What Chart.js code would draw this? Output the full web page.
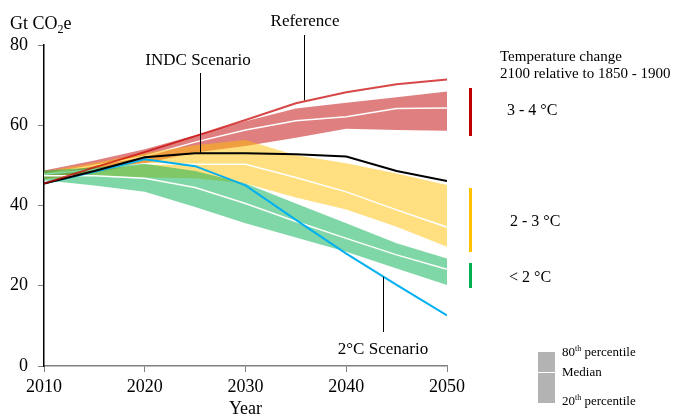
<!DOCTYPE html>
<html>
<head>
<meta charset="utf-8">
<script src="https://cdn.jsdelivr.net/npm/chart.js@4/dist/chart.umd.min.js"></script>
<style>
  html, body { margin: 0; padding: 0; background: #fff; }
  #wrap { width: 676px; height: 418px; position: relative; }
</style>
</head>
<body>
<div id="wrap"><canvas id="chart"></canvas></div>
<script>
// ----- data (Gt CO2e) -----
const years = [2010, 2015, 2020, 2025, 2030, 2035, 2040, 2045, 2050];
const xTicks = [2010, 2020, 2030, 2040, 2050];
const yTicks = [0, 20, 40, 60, 80];

const reference = [45.5, 49.5, 53.3, 57.3, 61.3, 65.5, 68.2, 70.2, 71.4];
const indc      = [45.5, 48.6, 52.0, 53.0, 53.0, 52.8, 52.2, 48.6, 46.1];
const twoDeg    = [45.5, 48.4, 51.5, 49.8, 45.0, 36.4, 28.0, 20.2, 12.6];

// 3 - 4 °C band
const redTop    = [48.7, 51.2, 54.0, 57.5, 61.0, 64.2, 65.6, 67.0, 68.4];
const redMed    = [47.8, 50.0, 52.3, 55.8, 58.8, 61.1, 62.1, 64.2, 64.3];
const redBot    = [46.6, 48.2, 50.5, 53.2, 54.8, 56.9, 59.1, 58.8, 58.6];
// 2 - 3 °C band
const yelTop    = [48.5, 50.6, 53.0, 55.0, 56.3, 52.5, 50.5, 48.0, 45.1];
const yelMed    = [47.8, 49.0, 50.4, 50.3, 50.3, 47.0, 43.4, 38.9, 34.6];
const yelBot    = [46.6, 47.4, 47.0, 46.8, 45.5, 42.0, 39.0, 34.7, 29.7];
// < 2 °C band
const grnTop    = [48.7, 49.5, 50.4, 48.6, 45.5, 40.5, 35.6, 30.6, 26.8];
const grnMed    = [47.4, 47.4, 46.8, 44.5, 40.5, 36.0, 31.8, 27.7, 24.1];
const grnBot    = [46.3, 45.0, 43.4, 39.6, 35.6, 32.0, 28.5, 24.3, 20.2];

const pts = arr => arr.map((v, i) => ({ x: years[i], y: v }));

const SERIF = '"Liberation Serif", "Times New Roman", serif';
const C = {
  RED: '#c00000', YEL: '#ffc000', GRN: '#00b050', BLUE: '#00b0f0',
  RED_F: 'rgba(192,0,0,0.5)', YEL_F: 'rgba(255,192,0,0.5)', GRN_F: 'rgba(0,176,80,0.5)',
  AXIS: '#808080'
};

const line = (data, color, width, order, extra) => Object.assign({
  data: pts(data), borderColor: color, borderWidth: width, pointRadius: 0,
  tension: 0, fill: false, order: order
}, extra || {});

const datasets = [
  line(reference, 'rgba(200,0,0,0.72)', 2, 0),
  line(indc, '#000', 2, 1),
  line(twoDeg, C.BLUE, 2, 2),
  // green band: 3 median, 4 top, 5 bottom
  line(grnMed, '#fff', 1.5, 3),
  line(grnTop, 'transparent', 0, 4, { fill: 5, backgroundColor: C.GRN_F }),
  line(grnBot, 'transparent', 0, 5),
  // yellow band: 6 median, 7 top, 8 bottom
  line(yelMed, '#fff', 1.5, 6),
  line(yelTop, 'transparent', 0, 7, { fill: 8, backgroundColor: C.YEL_F }),
  line(yelBot, 'transparent', 0, 8),
  // red band: 9 median, 10 top, 11 bottom
  line(redMed, '#fff', 1.5, 9),
  line(redTop, 'transparent', 0, 10, { fill: 11, backgroundColor: C.RED_F }),
  line(redBot, 'transparent', 0, 11)
];

// ----- texts, leader lines, side legends -----
const extras = {
  id: 'extras',
  afterDraw(chart) {
    const ctx = chart.ctx;
    const xs = chart.scales.x, ys = chart.scales.y;
    ctx.save();
    ctx.fillStyle = '#000';
    ctx.textBaseline = 'alphabetic';

    // y axis unit
    ctx.font = '18px ' + SERIF;
    ctx.textAlign = 'left';
    ctx.fillText('Gt CO', 10, 29);
    let w = ctx.measureText('Gt CO').width;
    ctx.font = '12px ' + SERIF;
    ctx.fillText('2', 10 + w, 33);
    let w2 = ctx.measureText('2').width;
    ctx.font = '18px ' + SERIF;
    ctx.fillText('e', 10 + w + w2, 29);

    // leader lines
    ctx.strokeStyle = '#000';
    ctx.lineWidth = 1;
    const leader = (xv, y0, yv) => {
      const px = Math.round(xs.getPixelForValue(xv)) + 0.5;
      ctx.beginPath();
      ctx.moveTo(px, y0);
      ctx.lineTo(px, ys.getPixelForValue(yv));
      ctx.stroke();
    };
    leader(2025.5, 73, 53);
    leader(2035.8, 35, 66.2);
    leader(2043.6, 332, 22.2);

    ctx.font = '17px ' + SERIF;
    ctx.textAlign = 'center';
    ctx.textBaseline = 'middle';
    ctx.fillText('INDC Scenario', 198, 61);
    ctx.fillText('Reference', 305, 22);
    ctx.fillText('2°C Scenario', 383, 350);

    // temperature legend
    ctx.textAlign = 'left';
    ctx.font = '15px ' + SERIF;
    ctx.fillText('Temperature change', 500, 57);
    ctx.fillText('2100 relative to 1850 - 1900', 500, 74);
    const bar = (color, y0, y1) => { ctx.fillStyle = color; ctx.fillRect(469, y0, 3, y1 - y0); };
    bar(C.RED, 88, 136);
    bar(C.YEL, 188, 252);
    bar(C.GRN, 263, 288);
    ctx.fillStyle = '#000';
    ctx.font = '16px ' + SERIF;
    ctx.fillText('3 - 4 °C', 507, 111);
    ctx.fillText('2 - 3 °C', 510, 222);
    ctx.fillText('< 2 °C', 509, 278);

    // percentile legend
    ctx.fillStyle = '#b3b3b3';
    ctx.fillRect(538, 352, 17, 51);
    ctx.fillStyle = '#fff';
    ctx.fillRect(538, 372, 17, 1);
    ctx.fillStyle = '#000';
    const sup = (num, y) => {
      ctx.font = '13px ' + SERIF;
      ctx.fillText(num, 562, y);
      let a = ctx.measureText(num).width;
      ctx.font = '8px ' + SERIF;
      ctx.fillText('th', 562 + a, y - 4);
      let b = ctx.measureText('th').width;
      ctx.font = '13px ' + SERIF;
      ctx.fillText(' percentile', 562 + a + b, y);
    };
    sup('80', 353);
    ctx.fillText('Median', 562, 373);
    sup('20', 402);
    ctx.restore();
  }
};

new Chart(document.getElementById('chart'), {
  type: 'line',
  data: { datasets },
  plugins: [extras],
  options: {
    responsive: true,
    maintainAspectRatio: false,
    animation: false,
    layout: { padding: { top: 45, right: 229, left: 0, bottom: 0 } },
    plugins: { legend: { display: false }, tooltip: { enabled: false } },
    scales: {
      x: {
        type: 'linear', min: 2010, max: 2050,
        afterBuildTicks: s => { s.ticks = xTicks.map(v => ({ value: v })); },
        afterFit: s => { s.height = 52; },
        grid: { drawOnChartArea: false, drawTicks: true, tickLength: 6, color: C.AXIS },
        border: { color: C.AXIS, width: 1.5 },
        ticks: { color: '#000', padding: 4, font: { family: SERIF, size: 18 }, callback: v => String(v), maxRotation: 0 },
        title: { display: true, text: 'Year', color: '#000', font: { family: SERIF, size: 18, lineHeight: 1 }, padding: { top: 0, bottom: 0 } }
      },
      y: {
        min: 0, max: 80,
        afterBuildTicks: s => { s.ticks = yTicks.map(v => ({ value: v })); },
        afterFit: s => { s.width = 44; },
        grid: { drawOnChartArea: false, drawTicks: true, tickLength: 6, color: C.AXIS },
        border: { color: '#000', width: 1.5 },
        ticks: { color: '#000', padding: 10, font: { family: SERIF, size: 18 } }
      }
    }
  }
});
</script>
</body>
</html>
